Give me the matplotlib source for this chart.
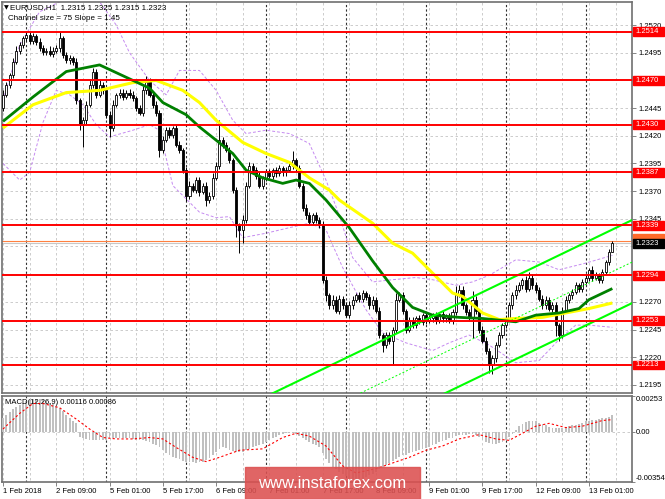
import numpy as np
import matplotlib
matplotlib.use("Agg")
import matplotlib.pyplot as plt
from matplotlib.patches import Rectangle

# EURUSD H1, bars from 1 Feb 17:00 to 13 Feb 08:00 (index 0..183)
first_open = 1.2445
closes = [
    1.2457, 1.2466, 1.2475, 1.2487, 1.2497, 1.2502, 1.2508, 1.2511, 1.2506, 1.2510,
    1.2505, 1.2499, 1.2496, 1.2497, 1.2494, 1.2497, 1.2499, 1.2508, 1.2493, 1.2488,
    1.2490, 1.2487, 1.2452, 1.2430, 1.2434, 1.2448, 1.2466, 1.2478, 1.2457, 1.2466,
    1.2461, 1.2439, 1.2427, 1.2448, 1.2457, 1.2459, 1.2455, 1.2459, 1.2457, 1.2454,
    1.2445, 1.2441, 1.2461, 1.2469, 1.2457, 1.2448, 1.2441, 1.2407, 1.2416, 1.2425,
    1.2421, 1.2427, 1.2412, 1.2407, 1.2389, 1.2366, 1.2375, 1.2371, 1.2380, 1.2369,
    1.2375, 1.2362, 1.2366, 1.2382, 1.2393, 1.2416, 1.2412, 1.2407, 1.2398, 1.2371,
    1.2339, 1.2335, 1.2344, 1.2375, 1.2393, 1.2389, 1.2384, 1.2375, 1.2382, 1.2387,
    1.2384, 1.2389, 1.2386, 1.2391, 1.2387, 1.2389, 1.2393, 1.2398, 1.2391, 1.2375,
    1.2355, 1.2348, 1.2342, 1.2348, 1.2344, 1.2339, 1.2290, 1.2276, 1.2267, 1.2272,
    1.2262, 1.2273, 1.2267, 1.2258, 1.2267, 1.2272, 1.2276, 1.2273, 1.2278, 1.2274,
    1.2267, 1.2272, 1.2262, 1.2240, 1.2231, 1.2240, 1.2235, 1.2245, 1.2272, 1.2276,
    1.2262, 1.2245, 1.2253, 1.2249, 1.2255, 1.2252, 1.2258, 1.2253, 1.2255, 1.2258,
    1.2253, 1.2259, 1.2255, 1.2257, 1.2253, 1.2261, 1.2276, 1.2281, 1.2267, 1.2261,
    1.2255, 1.2272, 1.2262, 1.2245, 1.2235, 1.2226, 1.2213, 1.2219, 1.2231, 1.2240,
    1.2249, 1.2255, 1.2267, 1.2276, 1.2281, 1.2285, 1.2290, 1.2282, 1.2292, 1.2285,
    1.2281, 1.2273, 1.2267, 1.2272, 1.2264, 1.2267, 1.2249, 1.2240, 1.2262, 1.2272,
    1.2276, 1.2279, 1.2285, 1.2282, 1.2288, 1.2292, 1.2299, 1.2292, 1.2294, 1.2290,
    1.2297, 1.2306, 1.2315, 1.2323,
]
# wick lengths in pips above / below the body
wick_up = [
    4, 3, 2, 3, 4, 3, 2, 4, 3, 3,  2, 3, 3, 2, 4, 3, 3, 6, 2, 3,
    3, 2, 3, 2, 3, 3, 5, 3, 2, 4,  3, 2, 3, 4, 2, 3, 3, 2, 3, 3,
    2, 3, 4, 5, 3, 2, 3, 2, 4, 3,  3, 2, 3, 3, 2, 3, 4, 2, 3, 3,
    2, 3, 3, 4, 3, 18, 3, 2, 3, 2,  3, 2, 4, 3, 3, 2, 3, 3, 2, 3,
    3, 2, 3, 3, 2, 3, 3, 8, 2, 3,  2, 3, 3, 2, 3, 3, 4, 3, 2, 4,
    3, 3, 2, 3, 4, 3, 2, 3, 3, 2,  3, 3, 2, 3, 2, 3, 3, 2, 6, 3,
    3, 2, 3, 3, 2, 3, 2, 3, 3, 2,  3, 2, 3, 2, 3, 3, 8, 4, 3, 2,
    3, 8, 3, 2, 3, 3, 2, 3, 3, 3,  2, 3, 3, 3, 4, 3, 2, 3, 5, 3,
    3, 2, 3, 3, 2, 3, 3, 2, 3, 3,  2, 3, 3, 2, 3, 3, 2, 3, 3, 2,
    3, 2, 3, 2,
]
wick_dn = [
    3, 2, 3, 3, 2, 3, 3, 2, 3, 3,  3, 2, 3, 3, 2, 3, 2, 3, 3, 2,
    3, 3, 3, 5, 20, 3, 2, 3, 3, 2,  3, 3, 8, 3, 2, 3, 3, 2, 3, 3,
    3, 2, 3, 3, 2, 3, 3, 6, 3, 2,  3, 3, 2, 3, 3, 5, 3, 2, 3, 3,
    2, 5, 3, 3, 2, 3, 3, 2, 3, 3,  10, 21, 12, 3, 2, 3, 3, 2, 3, 3,
    2, 3, 3, 2, 3, 3, 2, 3, 3, 2,  3, 3, 2, 3, 3, 2, 3, 5, 3, 3,
    2, 3, 3, 2, 3, 3, 2, 3, 3, 2,  3, 3, 2, 3, 6, 3, 3, 22, 3, 2,
    3, 3, 2, 3, 3, 2, 3, 3, 2, 3,  3, 2, 3, 3, 2, 3, 3, 2, 3, 3,
    2, 18, 3, 3, 2, 3, 7, 8, 3, 2,  3, 3, 2, 3, 3, 2, 3, 3, 2, 3,
    3, 2, 3, 3, 2, 3, 10, 5, 3, 2,  3, 3, 2, 3, 3, 2, 3, 3, 2, 3,
    3, 2, 3, 0,
]

# moving averages, read at sample bars
ma_green_idx = [0, 9, 19, 29, 39, 44, 48, 55, 59, 64, 69, 73, 78, 84, 88, 92, 97, 104,
                111, 117, 123, 129, 137, 144, 154, 160, 167, 173, 176, 183]
ma_green = [1.2433, 1.2455, 1.2478, 1.2484, 1.2470, 1.2463, 1.2450, 1.2439, 1.2428, 1.2416,
            1.2404, 1.2389, 1.2382, 1.2377, 1.2380, 1.2377, 1.2362, 1.2337, 1.2307, 1.2283,
            1.2265, 1.2258, 1.2256, 1.2255, 1.2252, 1.2258, 1.2260, 1.2264, 1.2272, 1.2282]
ma_yellow_idx = [0, 9, 19, 29, 39, 46, 54, 59, 64, 72, 79, 86, 92, 98, 101, 111, 117, 123,
                 129, 135, 138, 144, 149, 154, 162, 169, 176, 183]
ma_yellow = [1.2427, 1.2448, 1.2459, 1.2461, 1.2468, 1.2470, 1.2461, 1.2450, 1.2434, 1.2414,
             1.2404, 1.2396, 1.2382, 1.2371, 1.2362, 1.2341, 1.2323, 1.2314, 1.2296, 1.2278,
             1.2275, 1.2260, 1.2254, 1.2255, 1.2256, 1.2260, 1.2264, 1.2269]

# dashed bands
band_lo_idx = [0, 5, 8, 12, 16, 20, 24, 28, 32, 39, 44, 47, 51, 59, 64, 68, 72, 79, 86, 92,
               97, 102, 109, 114, 121, 129, 134, 140, 146, 154, 161, 167, 172, 176, 183]
band_lo = [1.2395, 1.2380, 1.2387, 1.2432, 1.2461, 1.2457, 1.2448, 1.2430, 1.2419, 1.2425,
           1.2430, 1.2425, 1.2375, 1.2351, 1.2346, 1.2347, 1.2328, 1.2332, 1.2337, 1.2341,
           1.2335, 1.2301, 1.2263, 1.2242, 1.2233, 1.2226, 1.2233, 1.2240, 1.2231, 1.2215,
           1.2217, 1.2236, 1.2249, 1.2249, 1.2247]
band_hi_idx = [0, 5, 11, 17, 23, 29, 34, 38, 44, 49, 53, 59, 64, 69, 73, 79, 86, 92, 97, 101,
               105, 111, 117, 124, 129, 136, 141, 146, 154, 161, 167, 175, 183]
band_hi = [1.2452, 1.2502, 1.2532, 1.2541, 1.2543, 1.2541, 1.2520, 1.2495, 1.2470, 1.2457,
           1.2479, 1.2479, 1.2461, 1.2434, 1.2422, 1.2425, 1.2422, 1.2413, 1.2380, 1.2348,
           1.2310, 1.2288, 1.2290, 1.2292, 1.2290, 1.2285, 1.2288, 1.2294, 1.2308, 1.2306,
           1.2299, 1.2305, 1.2312]

# regression channel (size 75, slope 1.45)
chan_idx = [80, 189]
chan_up = [1.2186, 1.2344]
chan_mid = [1.2148, 1.2306]
chan_lo = [1.2111, 1.2269]

levels = [1.2514, 1.2470, 1.2430, 1.2387, 1.2339, 1.2294, 1.2253, 1.2213]
bid, ask = 1.2323, 1.2325

# MACD main in points (1e-5)
macd_pts = [
    100, 120, 140, 160, 175, 190, 205, 215, 225, 230,
    235, 235, 225, 215, 205, 195, 185, 170, 145, 120,
    100, 80, 60, -35, -45, -50, -55, -55, -60, -60,
    -55, -55, -45, -45, -40, -40, -40, -45, -45, -50,
    -55, -60, -60, -65, -75, -85, -95, -110, -130, -150,
    -165, -175, -185, -195, -205, -210, -215, -215, -220, -215,
    -210, -200, -185, -165, -140, -120, -110, -115, -125, -135,
    -145, -145, -140, -130, -120, -110, -100, -95, -85, -70,
    -55, -45, -35, -25, -15, -10, -5, -5, -15, -30,
    -45, -60, -75, -85, -95, -110, -150, -190, -220, -245,
    -265, -285, -300, -315, -330, -340, -345, -340, -330, -320,
    -305, -295, -280, -265, -250, -235, -220, -205, -190, -175,
    -165, -160, -150, -145, -135, -130, -120, -115, -105, -95,
    -85, -75, -65, -55, -45, -40, -30, -25, -20, -20,
    -15, -15, -20, -35, -55, -70, -80, -85, -85, -80,
    -70, -55, -35, -15, 10, 40, 55, 70, 80, 80,
    75, 65, 55, 45, 35, 30, 25, 25, 30, 35,
    40, 45, 50, 55, 65, 75, 80, 85, 85, 90,
    95, 100, 105, 116,
]
signal_idx = [0, 5, 9, 12, 17, 22, 26, 30, 34, 39, 44, 48, 52, 57, 61, 65, 71, 78, 84, 88,
              92, 97, 102, 106, 112, 117, 122, 127, 132, 137, 143, 148, 152, 156, 160, 164,
              169, 174, 180, 183]
signal_pts = [20, 130, 200, 200, 170, 90, 20, -40, -50, -50, -40, -50, -110, -180, -210,
              -180, -130, -120, -40, -10, -30, -100, -240, -290, -260, -220, -180, -130,
              -100, -50, -20, -50, -60, -10, 40, 60, 30, 40, 80, 86]

day_starts = [7, 31, 55, 79, 103, 127, 151, 175]
label_idx = [0, 16, 32, 48, 64, 80, 96, 112, 128, 144, 160, 176]
label_txt = ['1 Feb 2018', '2 Feb 09:00', '5 Feb 01:00', '5 Feb 17:00', '6 Feb 09:00',
             '7 Feb 01:00', '7 Feb 17:00', '8 Feb 09:00', '9 Feb 01:00', '9 Feb 17:00',
             '12 Feb 09:00', '13 Feb 01:00']

plt.rcParams['font.family'] = ['Liberation Sans', 'DejaVu Sans']

W, H = 665, 499
def box(l, t, r, b):
    return [l / W, 1 - b / H, (r - l) / W, (b - t) / H]

fig = plt.figure(figsize=(W / 100, H / 100), dpi=100)
ax = fig.add_axes(box(2, 2, 632, 393))
ax2 = fig.add_axes(box(2, 396, 632, 482), sharex=ax)

c = np.array(closes)
o = np.array([first_open] + closes[:-1])
idx = np.arange(len(c))
hi = np.maximum(o, c) + np.array(wick_up) * 1e-4
lo = np.minimum(o, c) - np.array(wick_dn) * 1e-4

grid_col = '#c4c4c4'
for a in (ax, ax2):
    a.vlines(np.arange(0, 189, 8), -1, 2, color=grid_col, lw=0.6, linestyles=(0, (3, 3)), zorder=0)
    a.vlines(day_starts, -1, 2, color='#303030', lw=0.8, linestyles=(0, (2, 2)), zorder=1)
    for s in a.spines.values():
        s.set_color('#707070')
        s.set_linewidth(1.2)

price_ticks = np.round(np.arange(1.2195, 1.2521, 0.0025), 4)
ax.hlines(price_ticks, -1, 190, color=grid_col, lw=0.6, linestyles=(0, (3, 3)), zorder=0)

# bands
ax.plot(band_hi_idx, band_hi, color='#c58af0', lw=0.7, dashes=(3, 2), zorder=2)
ax.plot(band_lo_idx, band_lo, color='#c58af0', lw=0.7, dashes=(3, 2), zorder=2)

# candles
ax.vlines(idx, lo, hi, color='black', lw=0.7, zorder=3)
up = c >= o
ax.bar(idx[up], (c - o)[up], bottom=o[up], width=0.62, color='white',
       edgecolor='black', lw=0.6, zorder=4)
ax.bar(idx[~up], (o - c)[~up], bottom=c[~up], width=0.62, color='black',
       edgecolor='black', lw=0.6, zorder=4)

# bid / ask lines
ax.axhline(bid, color='#c8c8c8', lw=0.8, zorder=2)
ax.axhline(ask, color='#ff8040', lw=0.8, zorder=2)

# moving averages
ax.plot(ma_yellow_idx, ma_yellow, color='#ffff00', lw=2.2, zorder=5, solid_capstyle='butt')
ax.plot(ma_green_idx, ma_green, color='#008000', lw=2.0, zorder=5, solid_capstyle='butt')

# channel
ax.plot(chan_idx, chan_up, color='#00ff00', lw=1.5, zorder=5)
ax.plot(chan_idx, chan_lo, color='#00ff00', lw=1.5, zorder=5)
ax.plot(chan_idx, chan_mid, color='#00ff00', lw=0.7, dashes=(2, 2), zorder=5)

# horizontal levels with price boxes
ytr = ax.get_yaxis_transform()
for lv in levels:
    ax.axhline(lv, color='#ff0000', lw=1.4, zorder=6)
    ax.add_patch(Rectangle((1.0015, lv - 0.0004), 0.05, 0.0008, transform=ytr,
                           color='#ff0000', clip_on=False, zorder=10))
    ax.text(1.006, lv, f'{lv:.4f}', transform=ytr, color='white', fontsize=5.5,
            va='center', ha='left', clip_on=False, zorder=11)
ax.add_patch(Rectangle((1.0015, ask - 0.0002), 0.05, 0.0008, transform=ytr,
                       color='#ff6a2a', clip_on=False, zorder=10))
ax.add_patch(Rectangle((1.0015, bid - 0.0004), 0.05, 0.0008, transform=ytr,
                       color='black', clip_on=False, zorder=12))
ax.text(1.006, bid, f'{bid:.4f}', transform=ytr, color='white', fontsize=5.5,
        va='center', ha='left', clip_on=False, zorder=13)

ax.set_xlim(-0.3, 188.9)
ax.set_ylim(1.21877, 1.25408)
ax.yaxis.tick_right()
ax.set_yticks(price_ticks)
# labels that sit under a price box are not shown
hidden = {'1.2470', '1.2320', '1.2295'}
ax.set_yticklabels(['' if f'{t:.4f}' in hidden else f'{t:.4f}' for t in price_ticks])
ax.tick_params(axis='y', length=3, width=0.6, color='#707070', labelsize=5.5, pad=1.5)
ax.tick_params(axis='x', bottom=False, labelbottom=False)

fig.text(4 / W, 1 - 8 / H, '\u25bc', fontsize=4.5, va='center', family=['DejaVu Sans'])
fig.text(10 / W, 1 - 8 / H, 'EURUSD,H1  1.2315 1.2325 1.2315 1.2323', fontsize=5.8, va='center')
fig.text(8 / W, 1 - 19 / H, 'Channel size = 75 Slope = 1.45', fontsize=5.8, va='center')

# MACD panel
m = np.array(macd_pts) * 1e-5
ax2.bar(idx, m, width=0.55, color='#c0c0c0', zorder=3)
ax2.plot(signal_idx, np.array(signal_pts) * 1e-5, color='#ff0000', lw=0.8, dashes=(2, 2), zorder=4)
ax2.axhline(0, color=grid_col, lw=0.6, ls=(0, (3, 3)), zorder=0)
ax2.set_ylim(-0.00354, 0.00253)
ax2.yaxis.tick_right()
ax2.set_yticks([-0.00354, 0.0, 0.00253])
ylabs = ax2.set_yticklabels(['-0.00354', '0.00', '0.00253'])
ylabs[0].set_va('bottom')
ylabs[2].set_va('top')
ax2.tick_params(axis='y', length=2, width=0.6, color='#707070', labelsize=5.5, pad=0.5)
ax2.set_xticks(label_idx)
xlabs = ax2.set_xticklabels(label_txt)
for t in xlabs:
    t.set_ha('left')
ax2.tick_params(axis='x', length=3, width=0.6, color='#707070', labelsize=5.5, pad=1)
ax2.text(0.005, 0.93, 'MACD(12,26,9) 0.00116 0.00086', transform=ax2.transAxes,
         fontsize=5.5, va='center')

# watermark
fig.add_artist(Rectangle((245 / W, 0), 175 / W, 32 / H, transform=fig.transFigure,
                         color='#dc5050', alpha=0.88, zorder=20))
fig.text(332 / W, 1 - 484 / H, 'www.instaforex.com', color='white', fontsize=12,
         ha='center', va='center', zorder=21)

fig.savefig('out.png', dpi=100)
